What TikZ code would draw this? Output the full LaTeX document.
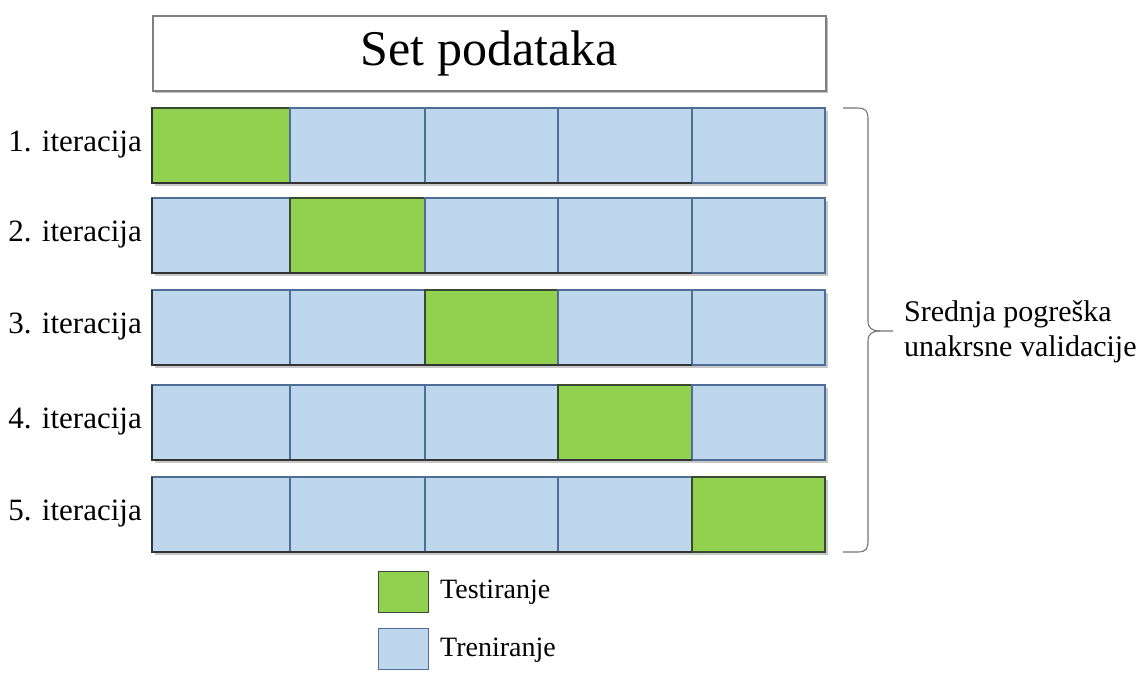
\documentclass[tikz,border=0pt]{standalone}
\usepackage{fontspec}
\setmainfont{Liberation Serif}
\usetikzlibrary{shadows}
\definecolor{testgreen}{HTML}{92D050}
\definecolor{trainblue}{HTML}{BED7ED}
\definecolor{blueedge}{HTML}{4E6E96}
\definecolor{greenedge}{HTML}{3A4A30}
\definecolor{frame}{HTML}{7F7F7F}
\begin{document}
\begin{tikzpicture}[x=1pt,y=-1pt,
  cellbox/.style={draw=blueedge, line width=1.2pt, fill=trainblue, inner sep=0pt, outer sep=0pt,
    anchor=north west, minimum height=75pt},
  testcell/.style={cellbox, fill=testgreen, draw=greenedge},
  rowshadow/.style={fill=black, opacity=0.25},
  rowlabel/.style={anchor=east, font=\fontsize{31}{36}\selectfont, inner sep=0pt},
  legendtext/.style={anchor=west, font=\fontsize{28}{32}\selectfont, inner sep=0pt},
  brace/.style={draw=black!55, line width=1.1pt}]
\useasboundingbox (0,0) rectangle (1146,673);

% data set header
\fill[black, opacity=0.25] (155,18) rectangle (828,93);
\node[draw=frame, line width=1.5pt, fill=white, minimum width=673pt, minimum height=75pt,
  inner sep=0pt, anchor=north west, font=\fontsize{50}{56}\selectfont] (set) at (152,15) {Set podataka};

% folds: one row per iteration, green cell = test fold
\def\colx{{152,290,425,558,692,825}}
\foreach \r/\y in {1/108,2/198,3/290,4/385,5/477}{
  \fill[black, opacity=0.22] (155,\y+3) rectangle (828,\y+78);
  \foreach \c in {1,...,5}{
    \pgfmathsetmacro{\xa}{\colx[\c-1]}
    \pgfmathsetmacro{\xb}{\colx[\c]}
    \pgfmathsetmacro{\w}{\xb-\xa}
    \ifnum\c=\r
      \node[testcell, minimum width=\w pt] (r\r c\c) at (\xa,\y) {};
    \else
      \node[cellbox, minimum width=\w pt] (r\r c\c) at (\xa,\y) {};
    \fi
  }
  \draw[black!80, line width=1.6pt] (r\r c1.north west) -- (r\r c1.south west) -- (r\r c5.south west);
  \node[rowlabel] (lab\r) at (142,\y+37) {\r. iteracija};
}

% brace gathering all iterations
\coordinate (btop) at (843,108);
\coordinate (bbot) at (843,552);
\coordinate (btip) at (893,331);
\draw[brace] (btop) -- (858,108) .. controls (866,108) and (868,112) .. (868,118)
  -- (868,321) .. controls (868,328) and (872,331) .. (880,331) -- (btip);
\draw[brace] (bbot) -- (858,552) .. controls (866,552) and (868,548) .. (868,542)
  -- (868,341) .. controls (868,334) and (872,331) .. (880,331);
\node[anchor=west, align=left, inner sep=0pt, font=\fontsize{30}{35}\selectfont] (mean) at (904,332)
  {Srednja pogreška\\unakrsne validacije};

% legend
\node[draw=greenedge, line width=1.2pt, fill=testgreen, minimum width=50pt, minimum height=41pt,
  inner sep=0pt, anchor=north west] (legtest) at (378,571) {};
\node[draw=blueedge, line width=1.2pt, fill=trainblue, minimum width=50pt, minimum height=41pt,
  inner sep=0pt, anchor=north west] (legtrain) at (378,628) {};
\node[legendtext] (legtesttext) at (440,592) {Testiranje};
\node[legendtext] (legtraintext) at (440,650) {Treniranje};
\end{tikzpicture}
\end{document}
